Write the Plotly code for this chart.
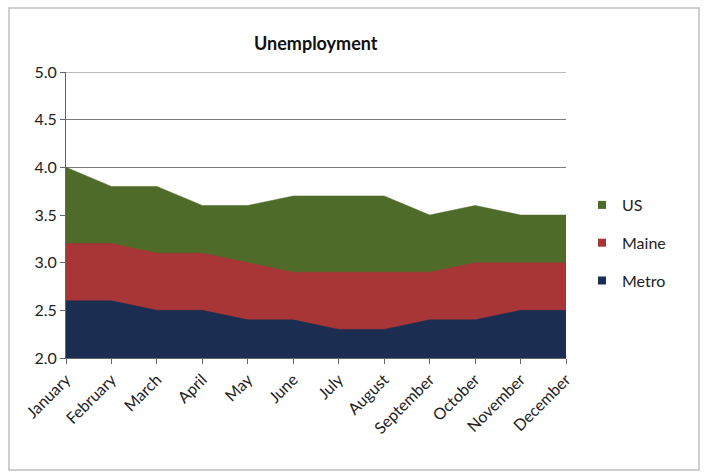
import plotly.graph_objects as go

months = ["January", "February", "March", "April", "May", "June", "July",
          "August", "September", "October", "November", "December"]
us = [4.0, 3.8, 3.8, 3.6, 3.6, 3.7, 3.7, 3.7, 3.5, 3.6, 3.5, 3.5]
maine = [3.2, 3.2, 3.1, 3.1, 3.0, 2.9, 2.9, 2.9, 2.9, 3.0, 3.0, 3.0]
metro = [2.6, 2.6, 2.5, 2.5, 2.4, 2.4, 2.3, 2.3, 2.4, 2.4, 2.5, 2.5]
y_ticks = [2.0, 2.5, 3.0, 3.5, 4.0, 4.5, 5.0]

series = [("US", us, "#4F6B2A"), ("Maine", maine, "#A83636"), ("Metro", metro, "#1B2E52")]

FONT = "Lato, 'Open Sans', sans-serif"
L, R, T, B = 66, 140, 72, 116
W, H = 706, 474
PW, PH = W - L - R, H - T - B

def px(x):
    return (x - L) / PW

def py(y):
    return (H - B - y) / PH

xs = list(range(len(months)))
fig = go.Figure()
for name, vals, col in series:
    fig.add_trace(go.Scatter(x=xs, y=vals, mode="lines", fill="tozeroy",
                             fillcolor=col, line=dict(color=col, width=0.5),
                             name=name, showlegend=False, hoverinfo="x+y+name"))
for i, (name, vals, col) in enumerate(series):
    fig.add_trace(go.Scatter(x=[None], y=[None], mode="markers",
                             marker=dict(symbol="square", size=8, color=col),
                             name=name, legendgroup=name, showlegend=True))

fig.update_layout(
    width=W, height=H,
    margin=dict(l=L, r=R, t=T, b=B),
    paper_bgcolor="white", plot_bgcolor="white",
    font=dict(family=FONT, size=16, color="#222"),
    xaxis=dict(range=[0, 11], tickmode="array", tickvals=xs, ticktext=months,
               tickangle=-45, showgrid=False, zeroline=False,
               showline=True, linecolor="#666", linewidth=1,
               ticks="outside", ticklen=5, tickcolor="#666",
               tickfont=dict(size=16, color="#222")),
    yaxis=dict(range=[2.0, 5.0], tickmode="array", tickvals=y_ticks,
               ticktext=[f"{v:.1f}" for v in y_ticks],
               showgrid=True, gridcolor="#7a7a7a", gridwidth=1.2, zeroline=False,
               showline=True, linecolor="#666", linewidth=1,
               ticks="outside", ticklen=5, tickcolor="#666",
               tickfont=dict(size=16, color="#222")),
    legend=dict(x=px(582), y=py(188), xanchor="left", yanchor="top",
                font=dict(size=16, color="#222"), tracegroupgap=14,
                itemwidth=30, bgcolor="rgba(0,0,0,0)"),
    showlegend=True,
    annotations=[dict(text="<b>Unemployment</b>", x=0.5, y=py(43),
                      xref="paper", yref="paper", showarrow=False,
                      xanchor="center", yanchor="middle",
                      font=dict(size=18, color="#111", family=FONT))],
    shapes=[dict(type="rect", xref="paper", yref="paper",
                 x0=px(9), x1=px(699), y0=py(470), y1=py(8),
                 line=dict(color="#c0c0c0", width=1.5), layer="below"),
            dict(type="line", xref="paper", yref="y", x0=0, x1=1,
                 y0=y_ticks[-1], y1=y_ticks[-1],
                 line=dict(color="#7a7a7a", width=1.2), layer="below")],
)

fig.write_html("out.html")
